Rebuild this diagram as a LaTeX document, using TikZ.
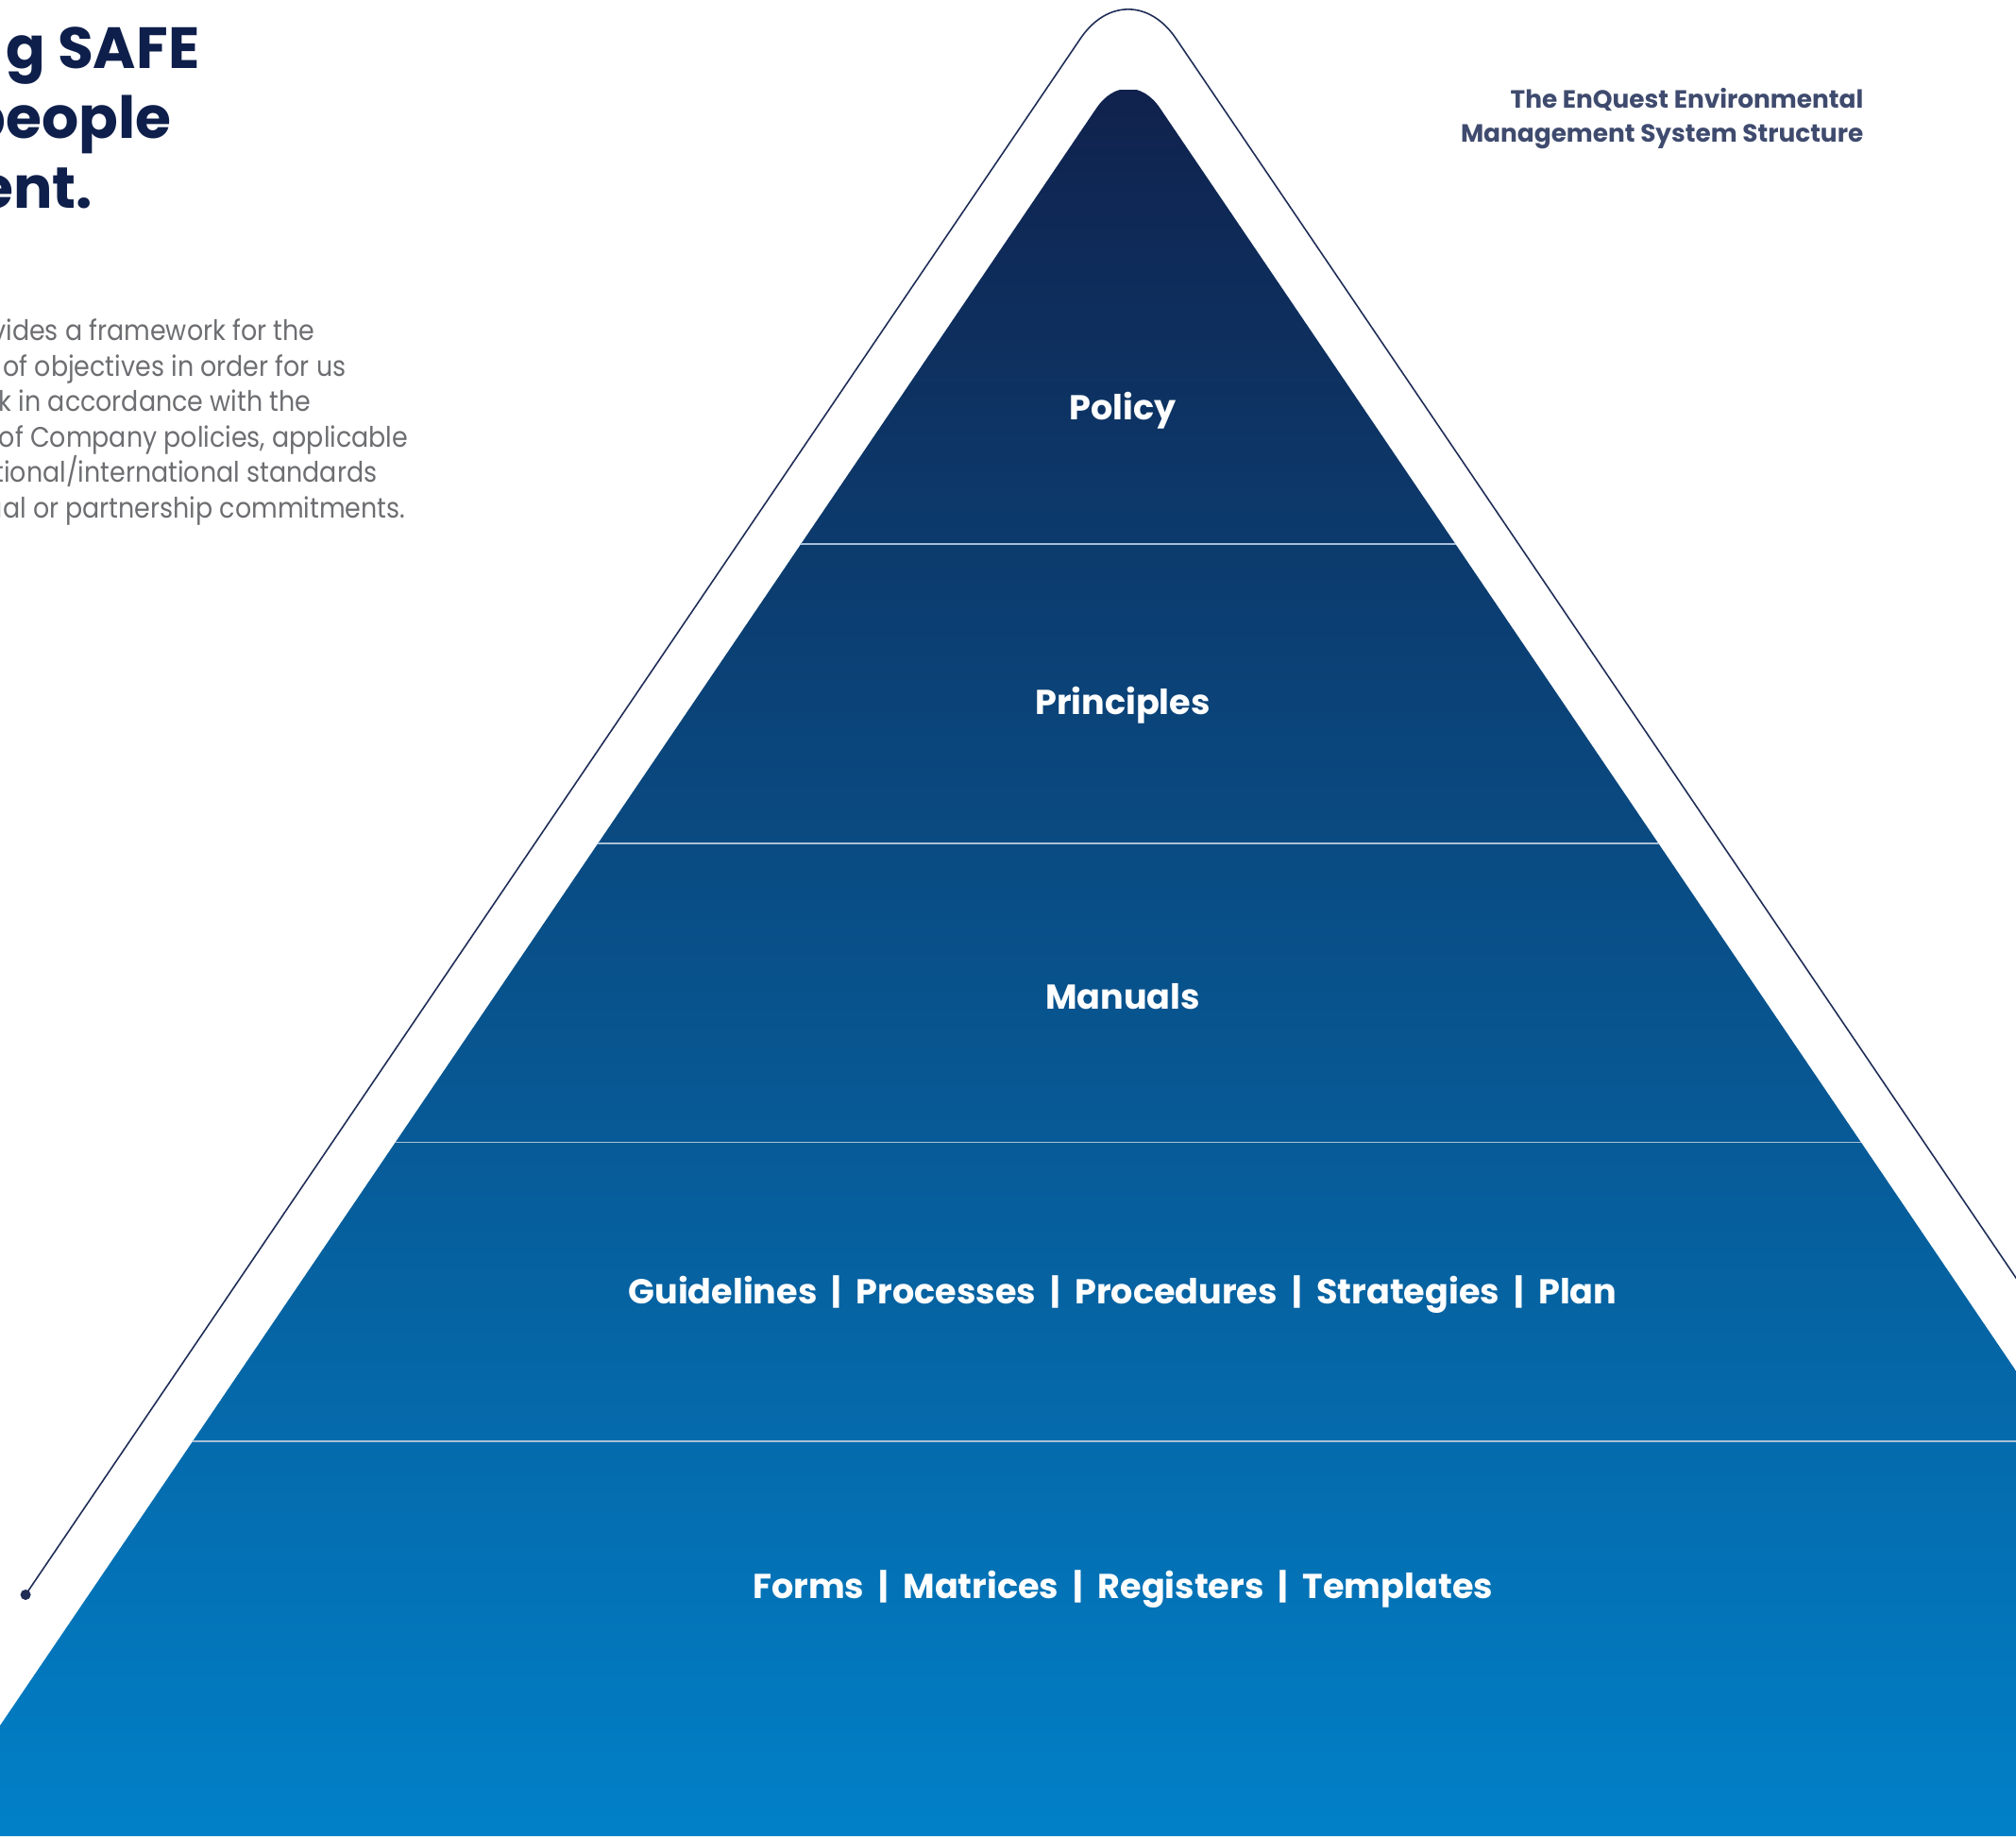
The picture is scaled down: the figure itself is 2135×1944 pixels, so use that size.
\documentclass[tikz,border=0pt]{standalone}
\usepackage{fontspec}
\setmainfont{Poppins}
\newfontfamily\bodyfont[FakeStretch=0.9]{Poppins}
\usetikzlibrary{positioning}

\definecolor{navy}{HTML}{0F1F4B}
\definecolor{pyrtop}{HTML}{10224D}
\definecolor{pyrbot}{HTML}{0180C8}
\definecolor{linecol}{HTML}{1F2D57}
\definecolor{bodygray}{HTML}{6D6E71}
\definecolor{subgray}{HTML}{3F4B6E}
\definecolor{divider}{HTML}{A8C0D8}

\newcommand\lvlsep{\hspace{0.42em}|\hspace{0.42em}}

\begin{document}
\begin{tikzpicture}[x=0.01cm,y=-0.01cm,node distance=3.12cm,
    lbl/.style={text=white,inner sep=0pt,text height=0.75em,text depth=0.25em,
      font=\bfseries\fontsize{10.4}{12}\selectfont},
    head/.style={text=navy,inner sep=0pt,anchor=base east,
      font=\bfseries\fontsize{17.5}{20}\selectfont},
    body/.style={text=bodygray,inner sep=0pt,anchor=base east,
      font=\bodyfont\fontsize{8.5}{10}\selectfont},
    sub/.style={text=subgray,inner sep=0pt,anchor=base east,
      font=\bfseries\fontsize{7.5}{9}\selectfont},
    dotnode/.style={circle,fill=linecol,inner sep=0pt,minimum size=1.1mm}]

  \useasboundingbox (0,0) rectangle (2135,1944);

  % pyramid body
  \begin{scope}
    \clip[rounded corners=17pt] (-79.3,1944) -- (1194.8,64.8) -- (2468.9,1944) -- cycle;
    \shade[top color=pyrtop,bottom color=pyrbot] (-100,95) rectangle (2300,1944);
    \foreach \y in {576,892.7,1209.3,1526}
      \draw[divider,line width=0.45pt] (-100,\y) -- (2300,\y);
  \end{scope}

  % outline
  \node[dotnode] (dot) at (27.1,1688.5) {};
  \coordinate (peak) at (1194.8,-33.8);
  \coordinate (exit) at (2300,1596.4);
  \draw[linecol,line width=0.45pt,rounded corners=25.6pt] (dot.center) -- (peak) -- (exit);

  % levels
  \node[lbl] (policy) at (1189,435.3) {Policy};
  \node[lbl] (principles) [below of=policy] {Principles};
  \node[lbl] (manuals) [below of=principles] {Manuals};
  \node[lbl] (guides) [below of=manuals]
    {Guidelines\lvlsep Processes\lvlsep Procedures\lvlsep Strategies\lvlsep Plan};
  \node[lbl] (forms) [below of=guides]
    {Forms\lvlsep Matrices\lvlsep Registers\lvlsep Templates};

  % heading
  \node[head] (h1) at (212,72) {g SAFE};
  \node[head] (h2) at (182,146) {people};
  \node[head] (h3) at (99,220) {ent.};

  \node[body] (b1) at (334,360.5) {vides a framework for the};
  \node[body] (b2) at (367,398) {of objectives in order for us};
  \node[body] (b3) at (330,435.5) {sk in accordance with the};
  \node[body] (b4) at (433,473) {of Company policies, applicable};
  \node[body] (b5) at (400,510.5) {ational/international standards};
  \node[body] (b6) at (430,548) {ual or partnership commitments.};

  \node[sub] (t1) at (1974,114) {The EnQuest Environmental};
  \node[sub] (t2) at (1974,150.7) {Management System Structure};
\end{tikzpicture}
\end{document}
